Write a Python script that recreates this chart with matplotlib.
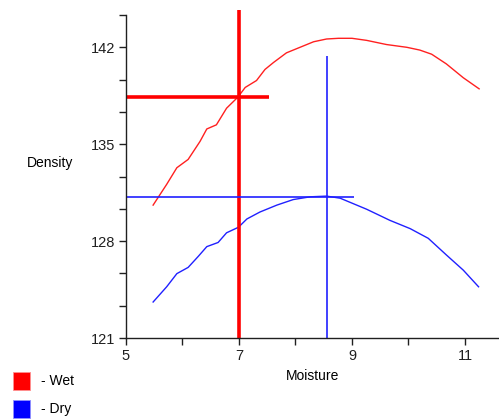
import matplotlib
matplotlib.use('Agg')
import matplotlib.pyplot as plt
from matplotlib.patches import Rectangle

# Wet density curve
wet_x = [5.48, 5.72, 5.90, 6.10, 6.31, 6.43, 6.60, 6.78, 6.98, 7.11, 7.31, 7.46,
         7.61, 7.84, 8.08, 8.32, 8.55, 8.76, 9.00, 9.26, 9.61, 9.97, 10.20, 10.41,
         10.67, 10.97, 11.25]
wet_y = [130.6, 132.1, 133.3, 133.9, 135.2, 136.1, 136.4, 137.6, 138.4, 139.1, 139.6, 140.4,
         140.9, 141.6, 142.0, 142.4, 142.6, 142.65, 142.65, 142.5, 142.2, 142.0, 141.8, 141.5,
         140.8, 139.8, 139.0]

# Dry density curve
dry_x = [5.48, 5.72, 5.90, 6.10, 6.28, 6.43, 6.63, 6.78, 6.99, 7.14, 7.37, 7.67,
         7.96, 8.26, 8.55, 8.79, 9.26, 9.67, 10.03, 10.35, 10.67, 10.97, 11.24]
dry_y = [123.6, 124.7, 125.65, 126.1, 126.9, 127.6, 127.9, 128.6, 129.0, 129.6, 130.1, 130.6,
         131.0, 131.2, 131.25, 131.1, 130.3, 129.5, 128.9, 128.2, 127.0, 125.9, 124.7]

# optimum points (moisture, density)
wet_opt = (7.0, 138.4)
dry_opt = (8.55, 131.2)

x_major = [5, 7, 9, 11]
x_minor = [6, 8, 10]
y_major = [121, 128, 135, 142]

plt.rcParams['font.family'] = ['Liberation Sans', 'DejaVu Sans']

fig = plt.figure(figsize=(4.99, 4.19), dpi=100)
ax = fig.add_axes([126 / 499, 1 - 338 / 419, 1 - 126 / 499, (338 - 15) / 419])

ax.plot(wet_x, wet_y, color='#ff2020', linewidth=1.0)
ax.plot(dry_x, dry_y, color='#2020ff', linewidth=1.0)

# wet crosshair
ax.plot([wet_opt[0], wet_opt[0]], [121, 144.7], color='#ff0000', linewidth=2.6,
        clip_on=False, solid_capstyle='butt')
ax.plot([5, wet_opt[0] + 0.53], [wet_opt[1], wet_opt[1]], color='#ff0000', linewidth=2.6,
        solid_capstyle='butt')

# dry crosshair
ax.plot([dry_opt[0], dry_opt[0]], [121, 141.4], color='#2020ff', linewidth=1.2,
        solid_capstyle='butt')
ax.plot([5, dry_opt[0] + 0.48], [dry_opt[1], dry_opt[1]], color='#2020ff', linewidth=1.2,
        solid_capstyle='butt')

ax.set_xlim(5, 5 + 373 / 56.5)
ax.set_ylim(121, 121 + 7 * 10 / 3)
ax.set_xticks(x_major)
ax.set_xticks(x_minor, minor=True)
ax.set_yticks(y_major)
ax.set_yticks([121 + i * 7 / 3 for i in range(11)], minor=True)

for s in ['top', 'right']:
    ax.spines[s].set_visible(False)
for s in ['left', 'bottom']:
    ax.spines[s].set_color('#202020')
    ax.spines[s].set_linewidth(1.0)
ax.tick_params(which='both', direction='out', length=5, width=1, colors='#202020',
               labelsize=10.5, pad=3)

ax.set_xlabel('Moisture', fontsize=10, labelpad=4)
fig.text(27 / 499, 1 - 163 / 419, 'Density', fontsize=10, ha='left', va='center')

# legend
fig.patches.append(Rectangle((13 / 499, 1 - 390 / 419), 17 / 499, 18 / 419,
                             transform=fig.transFigure, facecolor='#ff0000',
                             edgecolor='#ff9090', linewidth=0.6))
fig.patches.append(Rectangle((13 / 499, 1 - 418 / 419), 17 / 499, 18 / 419,
                             transform=fig.transFigure, facecolor='#0000ff',
                             edgecolor='#9090ff', linewidth=0.6))
fig.text(41 / 499, 1 - 381 / 419, '- Wet', fontsize=10, ha='left', va='center')
fig.text(41 / 499, 1 - 409 / 419, '- Dry', fontsize=10, ha='left', va='center')

fig.savefig('out.png', dpi=100)
